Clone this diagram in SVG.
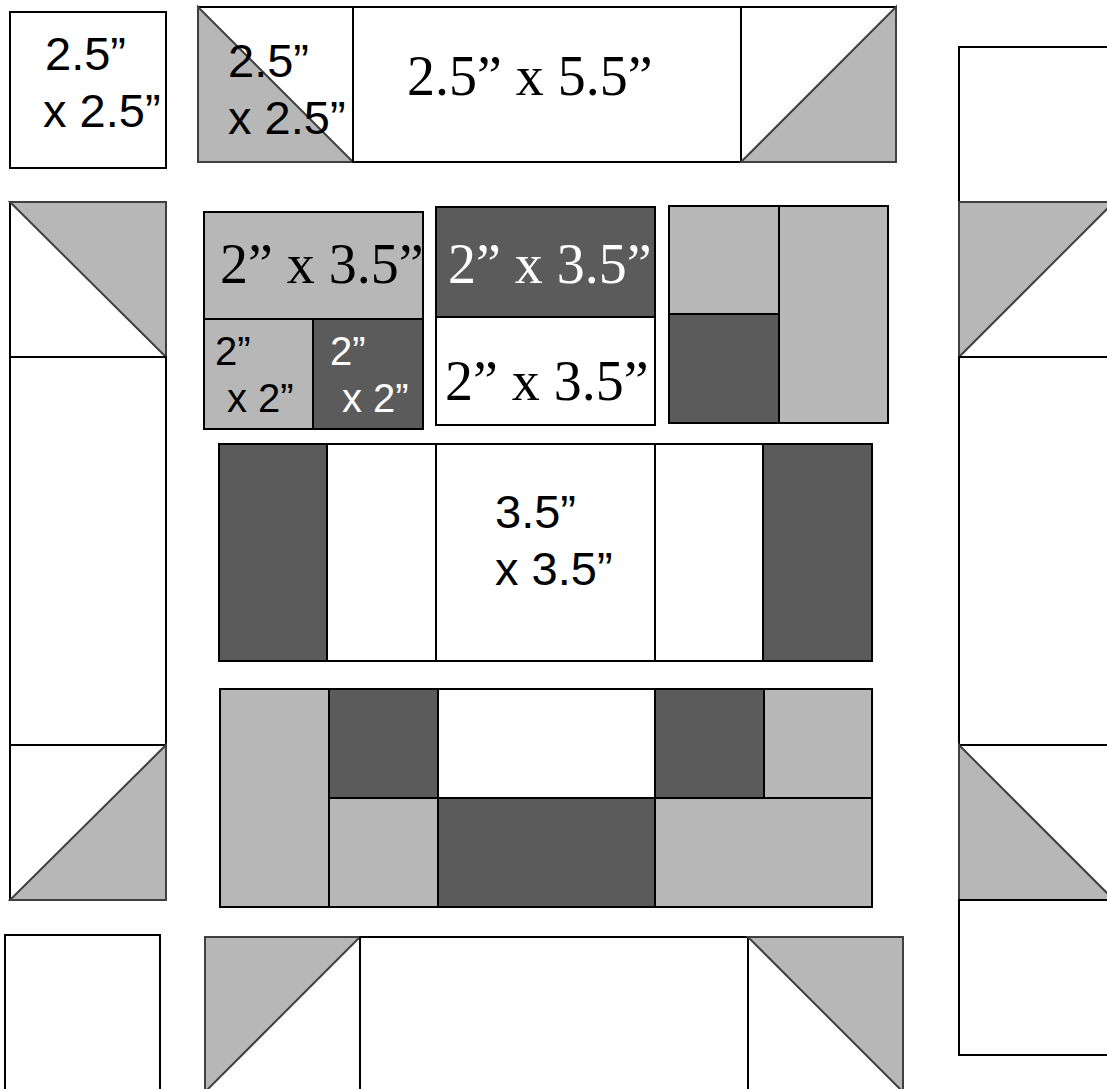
<svg xmlns="http://www.w3.org/2000/svg" width="1107" height="1089" viewBox="0 0 1107 1089">
<style>
.w{fill:#fff;stroke:#000;stroke-width:2}
.g{fill:#b7b7b7;stroke:#000;stroke-width:2}
.d{fill:#5b5b5b;stroke:#000;stroke-width:2}
.t{fill:#b7b7b7;stroke:#404040;stroke-width:2;stroke-linejoin:miter}
.sa{font-family:"Liberation Sans",Arial,sans-serif;font-size:47px;fill:#000}
.ss{font-family:"Liberation Sans",Arial,sans-serif;font-size:40px;fill:#000}
.se{font-family:"Liberation Serif","Times New Roman",serif;font-size:56px;fill:#000}
.wt{fill:#fff}
</style>
<rect width="1107" height="1089" fill="#fff"/>
<g id="corner-tl"><rect class="w" x="10" y="12" width="156" height="156"/>
<text class="sa" x="45" y="70">2.5”</text><text class="sa" x="43" y="127">x 2.5”</text></g>

<g id="top-hst-left"><rect class="w" x="198" y="7" width="155" height="155"/><polygon class="t" points="198,7 353,162 198,162"/>
<text class="sa" x="228" y="77">2.5”</text><text class="sa" x="228" y="134">x 2.5”</text></g>
<g id="top-rect"><rect class="w" x="353" y="7" width="388" height="155"/><text class="se" x="407" y="95">2.5” x 5.5”</text></g>
<g id="top-hst-right"><rect class="w" x="741" y="7" width="155" height="155"/><polygon class="t" points="896,7 896,162 741,162"/></g>

<g id="left-hst-top"><rect class="w" x="10" y="202" width="156" height="155"/><polygon class="t" points="10,202 166,202 166,357"/></g>
<g id="left-rect"><rect class="w" x="10" y="357" width="156" height="388"/></g>
<g id="left-hst-bottom"><rect class="w" x="10" y="745" width="156" height="155"/><polygon class="t" points="166,745 166,900 10,900"/></g>

<g id="right-top"><rect class="w" x="959" y="47" width="160" height="155"/></g>
<g id="right-hst-top"><rect class="w" x="959" y="202" width="160" height="155"/><polygon class="t" points="959,202 1114,202 959,357"/></g>
<g id="right-rect"><rect class="w" x="959" y="357" width="160" height="388"/></g>
<g id="right-hst-bottom"><rect class="w" x="959" y="745" width="160" height="155"/><polygon class="t" points="959,745 1114,900 959,900"/></g>
<g id="right-bottom"><rect class="w" x="959" y="900" width="160" height="155"/></g>

<g id="corner-bl"><rect class="w" x="5" y="935" width="155" height="160"/></g>
<g id="bottom-hst-left"><rect class="w" x="205" y="937" width="155" height="160"/><polygon class="t" points="205,937 360,937 205,1092"/></g>
<g id="bottom-rect"><rect class="w" x="360" y="937" width="388" height="160"/></g>
<g id="bottom-hst-right"><rect class="w" x="748" y="937" width="155" height="160"/><polygon class="t" points="748,937 903,937 903,1092"/></g>

<g id="block-a">
<rect class="g" x="204" y="212" width="219" height="107"/>
<rect class="g" x="204" y="319" width="109" height="110"/>
<rect class="d" x="313" y="319" width="110" height="110"/>
<text class="se" x="220" y="283">2” x 3.5”</text>
<text class="ss" x="215" y="365">2”</text><text class="ss" x="227" y="412">x 2”</text>
<text class="ss wt" x="330" y="365">2”</text><text class="ss wt" x="342" y="412">x 2”</text>
</g>
<g id="block-b">
<rect class="d" x="436" y="207" width="219" height="110"/>
<rect class="w" x="436" y="317" width="219" height="108"/>
<text class="se wt" x="448" y="283">2” x 3.5”</text>
<text class="se" x="445" y="400">2” x 3.5”</text>
</g>
<g id="block-c">
<rect class="g" x="669" y="206" width="110" height="108"/>
<rect class="d" x="669" y="314" width="110" height="109"/>
<rect class="g" x="779" y="206" width="109" height="217"/>
</g>
<g id="block-d">
<rect class="d" x="219" y="444" width="108" height="217"/>
<rect class="w" x="327" y="444" width="109" height="217"/>
<rect class="w" x="436" y="444" width="219" height="217"/>
<rect class="w" x="655" y="444" width="108" height="217"/>
<rect class="d" x="763" y="444" width="109" height="217"/>
<text class="sa" x="495" y="528">3.5”</text><text class="sa" x="495" y="585">x 3.5”</text>
</g>
<g id="block-e">
<rect class="g" x="220" y="689" width="109" height="218"/>
<rect class="d" x="329" y="689" width="109" height="109"/>
<rect class="w" x="438" y="689" width="217" height="109"/>
<rect class="d" x="655" y="689" width="109" height="109"/>
<rect class="g" x="764" y="689" width="108" height="109"/>
<rect class="g" x="329" y="798" width="109" height="109"/>
<rect class="d" x="438" y="798" width="217" height="109"/>
<rect class="g" x="655" y="798" width="217" height="109"/>
</g>
<g id="connectors"/>
</svg>
